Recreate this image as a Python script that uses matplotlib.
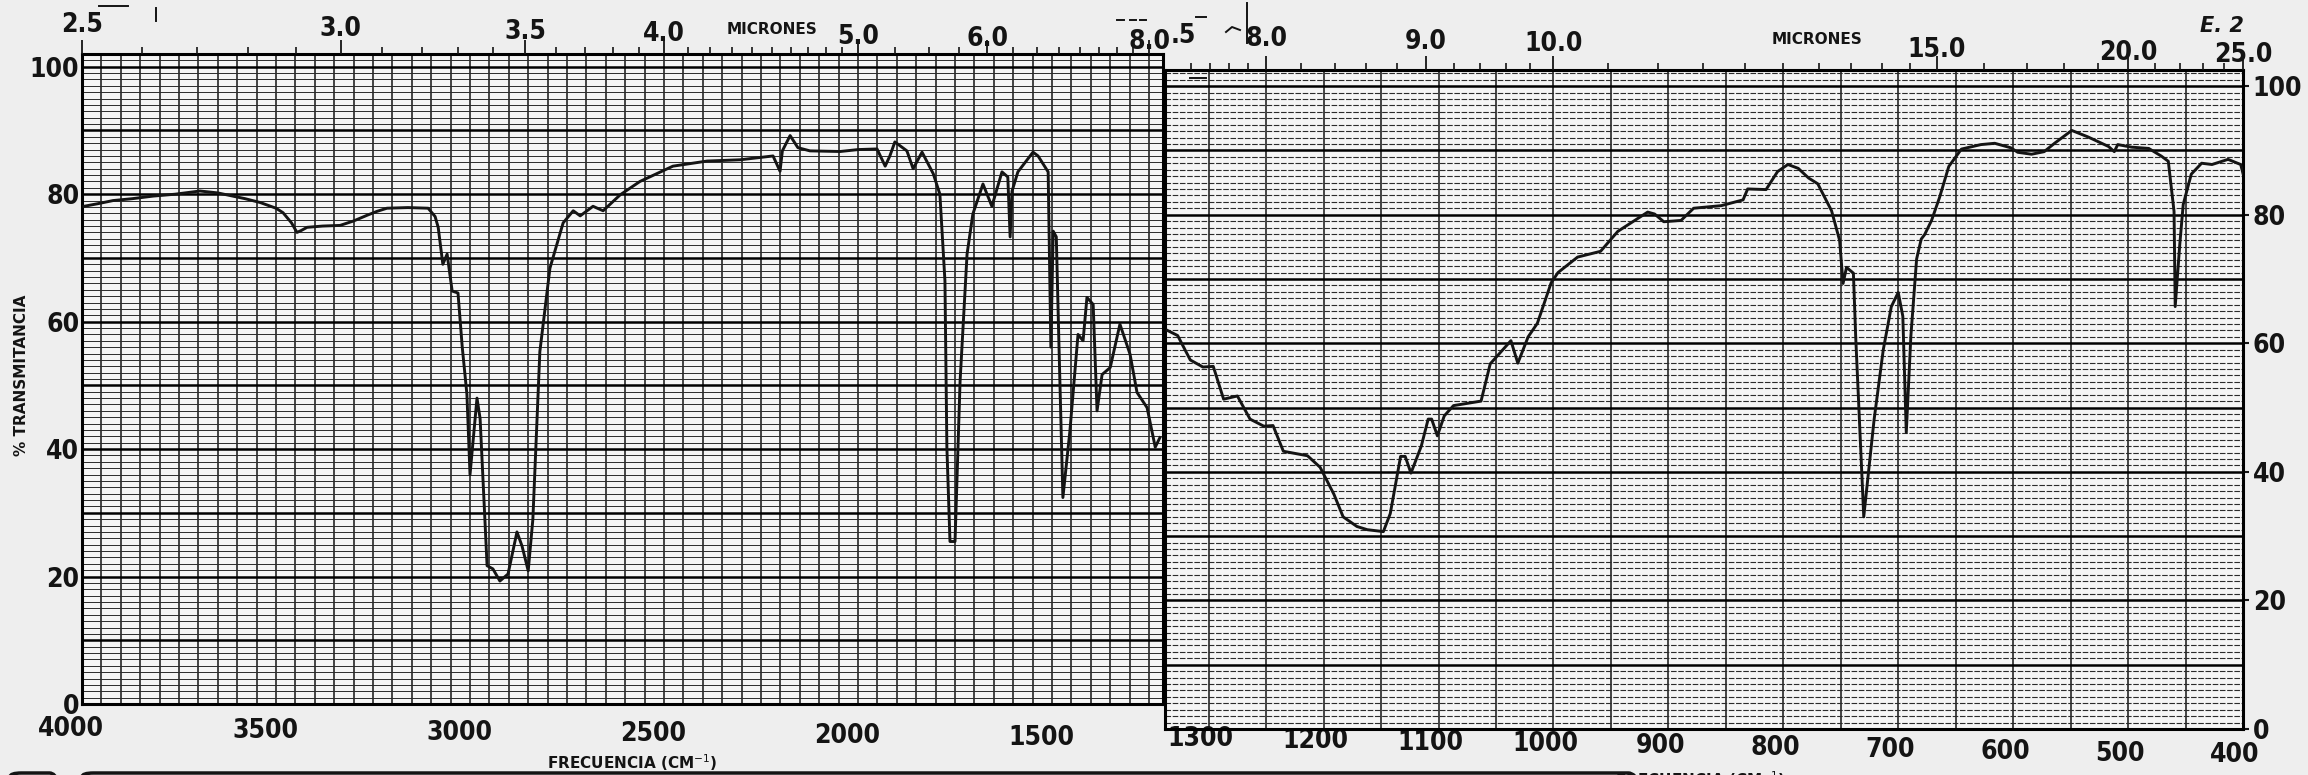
import numpy as np
import matplotlib
matplotlib.use("Agg")
import matplotlib.pyplot as plt
import matplotlib.transforms as mtransforms
from matplotlib import font_manager
from matplotlib.patches import FancyBboxPatch

# -----------------------------------------------------------------------
# Data (wavenumber in cm-1, % transmittance)
# -----------------------------------------------------------------------
left_wavenumber = [
    3995, 3960, 3920, 3870, 3817, 3760, 3696, 3650, 3619, 3580, 3541, 3500,
    3482, 3460, 3446, 3435, 3420, 3380, 3335, 3300, 3265, 3240, 3214, 3160,
    3108, 3090, 3082, 3070, 3059, 3046, 3031, 3020, 3008, 3000, 2982, 2974,
    2956, 2941, 2923, 2902, 2879, 2866, 2850, 2838, 2820, 2794, 2760, 2734,
    2716, 2683, 2657, 2613, 2562, 2477, 2389, 2304, 2219, 2201, 2195, 2175,
    2155, 2124, 2046, 2000, 1951, 1930, 1918, 1905, 1874, 1858, 1835, 1806,
    1789, 1776, 1771, 1763, 1750, 1737, 1719, 1704, 1678, 1655, 1629, 1614,
    1608, 1603, 1588, 1549, 1536, 1510, 1503, 1497, 1489, 1482, 1472, 1454,
    1433, 1420, 1410, 1394, 1384, 1371, 1350, 1325, 1299, 1281, 1255, 1234,
    1222,
]
left_transmittance = [
    78.1, 78.5, 79.0, 79.3, 79.7, 80.0, 80.5, 80.2, 79.8, 79.3, 78.7, 77.8,
    77.1, 75.5, 74.0, 74.3, 74.8, 75.0, 75.1, 75.8, 76.7, 77.3, 77.8, 77.9,
    77.8, 76.5, 74.8, 69.0, 70.6, 64.8, 64.5, 56.0, 48.6, 36.0, 48.0, 44.8,
    21.7, 21.2, 19.3, 20.4, 27.0, 24.8, 20.9, 29.0, 55.3, 68.4, 75.5, 77.4,
    76.6, 78.1, 77.4, 79.9, 82.0, 84.4, 85.2, 85.4, 86.0, 83.6, 86.8, 89.2,
    87.3, 86.8, 86.7, 87.0, 87.1, 84.4, 86.0, 88.2, 86.8, 84.0, 86.6, 83.2,
    80.0, 66.4, 40.3, 25.5, 25.5, 50.6, 70.6, 76.9, 81.6, 78.1, 83.5, 82.7,
    73.3, 80.5, 83.5, 86.6, 86.0, 83.5, 56.0, 74.2, 73.3, 56.0, 32.4, 42.8,
    58.0, 57.0, 63.8, 62.7, 46.0, 51.7, 52.8, 59.6, 54.9, 48.9, 46.5, 40.3,
    41.8,
]

right_wavenumber = [
    1336, 1327, 1316, 1305, 1296, 1287, 1275, 1264, 1252, 1244, 1235, 1214,
    1203, 1191, 1183, 1171, 1162, 1148, 1142, 1133, 1129, 1124, 1115, 1109,
    1106, 1101, 1095, 1087, 1063, 1055, 1037, 1031, 1022, 1014, 1002, 996,
    979, 959, 944, 918, 912, 904, 889, 878, 854, 835, 831, 815, 805, 796,
    787, 778, 770, 758, 751, 748, 745, 739, 737, 730, 721, 713, 706, 700,
    696, 693, 689, 684, 680, 677, 671, 664, 656, 645, 628, 616, 602, 596,
    584, 573, 564, 549, 535, 517, 512, 509, 497, 482, 471, 465, 460, 459,
    455, 452, 445, 436, 427, 413, 402, 400,
]
right_transmittance = [
    62.0, 61.2, 57.4, 56.3, 56.4, 51.3, 51.8, 48.2, 47.1, 47.2, 43.2, 42.5,
    40.7, 36.5, 33.0, 31.5, 31.0, 30.7, 33.5, 42.4, 42.4, 39.8, 44.0, 48.2,
    48.2, 45.6, 48.7, 50.3, 51.0, 56.8, 60.4, 56.9, 61.0, 63.1, 69.4, 71.0,
    73.4, 74.3, 77.4, 80.4, 80.1, 78.9, 79.1, 81.0, 81.4, 82.3, 84.0, 83.9,
    86.7, 87.8, 87.2, 85.7, 84.8, 80.6, 76.0, 69.3, 71.8, 70.9, 61.0, 33.0,
    48.1, 59.0, 65.7, 67.9, 64.2, 46.1, 61.1, 73.1, 76.2, 76.9, 79.1, 82.7,
    87.5, 90.2, 90.9, 91.1, 90.4, 89.7, 89.4, 89.8, 91.1, 93.1, 92.1, 90.6,
    89.8, 90.9, 90.5, 90.3, 89.1, 88.3, 80.5, 65.7, 75.4, 81.6, 86.3, 88.0,
    87.8, 88.6, 87.8, 86.4,
]

left_freq_ticks = [4000, 3500, 3000, 2500, 2000, 1500]
right_freq_ticks = [1300, 1200, 1100, 1000, 900, 800, 700, 600, 500, 400]
pct_ticks = [0, 20, 40, 60, 80, 100]

left_micron_major = [2.5, 3.0, 3.5, 4.0, 5.0, 6.0, 8.0]
left_micron_minor = [2.6, 2.7, 2.8, 2.9, 3.1, 3.2, 3.3, 3.4, 3.6, 3.7, 3.8,
                     3.9, 4.1, 4.2, 4.3, 4.4, 4.5, 4.6, 4.7, 4.8, 4.9, 5.25,
                     5.5, 5.75, 6.25, 6.5, 6.75, 7.0, 7.25, 7.5, 7.75]
right_micron_major = [8.0, 9.0, 10.0, 15.0, 20.0, 25.0]
right_micron_minor = [7.6, 7.7, 7.8, 7.9, 8.2, 8.4, 8.6, 8.8, 9.2, 9.4, 9.6,
                      9.8, 10.5, 11.0, 11.5, 12.0, 12.5, 13.0, 13.5, 14.0,
                      14.5, 16.0, 17.0, 18.0, 19.0, 21.0, 22.0, 23.0, 24.0]

# -----------------------------------------------------------------------
# Style
# -----------------------------------------------------------------------
W, H = 2308, 775
PAPER = "#eeeeee"
CELL = "#f5f5f5"
INK = "#141414"
TILT = 0.016   # the scan is slightly rotated: px of drop per px to the right

# the chart paper uses tall narrow digits: take a condensed face if one exists
fonts = font_manager.fontManager.ttflist
if any(f.name == "DejaVu Sans" and f.stretch == "condensed" for f in fonts):
    NUM_FONT = dict(family="DejaVu Sans", stretch="condensed", weight="bold")
elif any(f.name == "Liberation Sans Narrow" for f in fonts):
    NUM_FONT = dict(family="Liberation Sans Narrow", weight="bold")
else:
    NUM_FONT = dict(family="Liberation Sans", weight="bold")
NUM_SIZE = 19 if NUM_FONT["family"] != "Liberation Sans" else 17
LBL_FONT = dict(family="DejaVu Sans", weight="bold")


def fig_box(x0, y_top, x1, y_bot):
    """Convert a pixel box (top-left origin) to a figure-fraction rect."""
    return [x0 / W, 1 - y_bot / H, (x1 - x0) / W, (y_bot - y_top) / H]


def style_numbers(labels):
    for lab in labels:
        lab.set_fontfamily(NUM_FONT["family"])
        lab.set_fontweight(NUM_FONT["weight"])
        if "stretch" in NUM_FONT:
            lab.set_fontstretch(NUM_FONT["stretch"])
        lab.set_fontsize(NUM_SIZE)


def tilt_labels(ax, labels, values, dx_px, dy0_px, tilt=TILT):
    """Shift tick labels left by dx and down following the scan's tilt."""
    x0 = ax.get_position().x0 * W
    x1 = ax.get_position().x1 * W
    lo, hi = ax.get_xlim()
    for lab, v in zip(labels, values):
        xp = x0 + (v - lo) / (hi - lo) * (x1 - x0)
        dy = dy0_px + (xp - x0) * tilt
        off = mtransforms.ScaledTranslation(dx_px / 100, -dy / 100,
                                            fig.dpi_scale_trans)
        lab.set_transform(lab.get_transform() + off)


def draw_paper(ax, nu_lo, nu_hi, dashed):
    for nu in range(nu_lo, nu_hi + 1, 50):
        ax.axvline(nu, color=INK, lw=1.1, zorder=1)
    for p in range(0, 103):
        if p % 10 == 0:
            ax.axhline(p, color="black", lw=1.8, zorder=1)
        elif dashed:
            ax.axhline(p, color="#2b2b2b", lw=0.8, ls=(0, (5, 1.5)), zorder=1)
        else:
            ax.axhline(p, color="#2b2b2b", lw=0.7, zorder=1)


def micron_axis(ax, majors, minors, dy0):
    top = ax.twiny()
    top.set_xlim(ax.get_xlim())
    ticks = [1e4 / m for m in majors]
    top.set_xticks(ticks)
    top.set_xticklabels([f"{m:.1f}" for m in majors])
    top.set_xticks([1e4 / m for m in minors], minor=True)
    top.tick_params(axis="x", which="major", length=10, width=1.3, pad=1,
                    colors=INK)
    top.tick_params(axis="x", which="minor", length=5, width=1.2, colors=INK)
    style_numbers(top.get_xticklabels())
    tilt_labels(top, top.get_xticklabels(), ticks, 0, dy0)
    for sp in top.spines.values():
        sp.set_visible(False)
    return top


fig = plt.figure(figsize=(W / 100, H / 100), dpi=100, facecolor=PAPER)

# ---- Left chart: 4000 - 1214 cm-1 ----
axL = fig.add_axes(fig_box(82, 54, 1163, 704))
axL.set_facecolor(CELL)
axL.set_xlim(4000, 1214)
axL.set_ylim(0, 102)
draw_paper(axL, 1250, 4000, dashed=False)
axL.plot(left_wavenumber, left_transmittance, color=INK, lw=2.1, zorder=3)
axL.set_xticks(left_freq_ticks)
axL.set_yticks(pct_ticks)
axL.tick_params(axis="x", length=0, pad=8, colors=INK)
axL.tick_params(axis="y", length=0, pad=2, colors=INK)
style_numbers(axL.get_xticklabels() + axL.get_yticklabels())
tilt_labels(axL, axL.get_xticklabels(), left_freq_ticks, -11, 1, tilt=0.009)
for sp in axL.spines.values():
    sp.set_linewidth(2.2)
    sp.set_color("black")
micron_axis(axL, left_micron_major, left_micron_minor, -1)

# ---- Right chart: 1338 - 400 cm-1 ----
axR = fig.add_axes(fig_box(1165, 70, 2243, 729))
axR.set_facecolor(CELL)
axR.set_xlim(1338, 400)
axR.set_ylim(0, 102.5)
draw_paper(axR, 400, 1300, dashed=True)
axR.plot(right_wavenumber, right_transmittance, color=INK, lw=2.1, zorder=3)
axR.set_xticks(right_freq_ticks)
axR.set_yticks(pct_ticks)
axR.yaxis.tick_right()
axR.tick_params(axis="x", length=0, pad=3, colors=INK)
axR.tick_params(axis="y", length=4, width=1.5, pad=3, colors=INK)
style_numbers(axR.get_xticklabels() + axR.get_yticklabels())
tilt_labels(axR, axR.get_xticklabels(), right_freq_ticks, -8, -8)
for sp in axR.spines.values():
    sp.set_linewidth(2.2)
    sp.set_color("black")
micron_axis(axR, right_micron_major, right_micron_minor, -4)

# ---- Labels ----
fig.text(772 / W, 1 - 30 / H, "MICRONES", ha="center", va="center",
         fontsize=11, color=INK, **LBL_FONT)
fig.text(1817 / W, 1 - 40 / H, "MICRONES", ha="center", va="center",
         fontsize=11, color=INK, **LBL_FONT)
fig.text(1183 / W, 1 - 36 / H, ".5", ha="center", va="center",
         fontsize=NUM_SIZE, color=INK, **NUM_FONT)
fig.text(2222 / W, 1 - 26 / H, "E. 2", ha="center", va="center",
         fontsize=15, style="italic", color=INK, **LBL_FONT)
fig.text(22 / W, 1 - 375 / H, "% TRANSMITANCIA", rotation=90, ha="center",
         va="center", fontsize=11, color=INK, **LBL_FONT)
fig.text(632 / W, 1 - 763 / H, "FRECUENCIA (CM$^{-1}$)", ha="center",
         va="center", fontsize=11, color=INK, **LBL_FONT)
fig.text(1700 / W, 1 - 769 / H, "FRECUENCIA (CM$^{-1}$)", ha="center",
         va="top", fontsize=11, color=INK, **LBL_FONT)

# ---- pen marks and the boxes cut off at the bottom of the scan ----
marks = [
    ([99, 128], [6, 6]), ([156, 156], [8, 21]),
    ([1117, 1124], [20, 20]), ([1130, 1136], [20, 20]), ([1140, 1146], [20, 20]),
    ([1196, 1206], [17, 17]), ([1247, 1247], [3, 43]),
    ([1226, 1232, 1240], [32, 27, 30]), ([1190, 1206], [78, 78]),
]
for xs, ys in marks:
    fig.add_artist(plt.Line2D([x / W for x in xs], [1 - y / H for y in ys],
                              color=INK, lw=1.4))
for x0, x1 in [(10, 61), (82, 1640)]:
    fig.add_artist(FancyBboxPatch((x0 / W, -0.05), (x1 - x0) / W, 0.05 + 2 / H,
                                  boxstyle="round,pad=0,rounding_size=0.005",
                                  transform=fig.transFigure, fill=False,
                                  lw=2.5, ec=INK))

fig.savefig("out.png", dpi=100, facecolor=PAPER)
